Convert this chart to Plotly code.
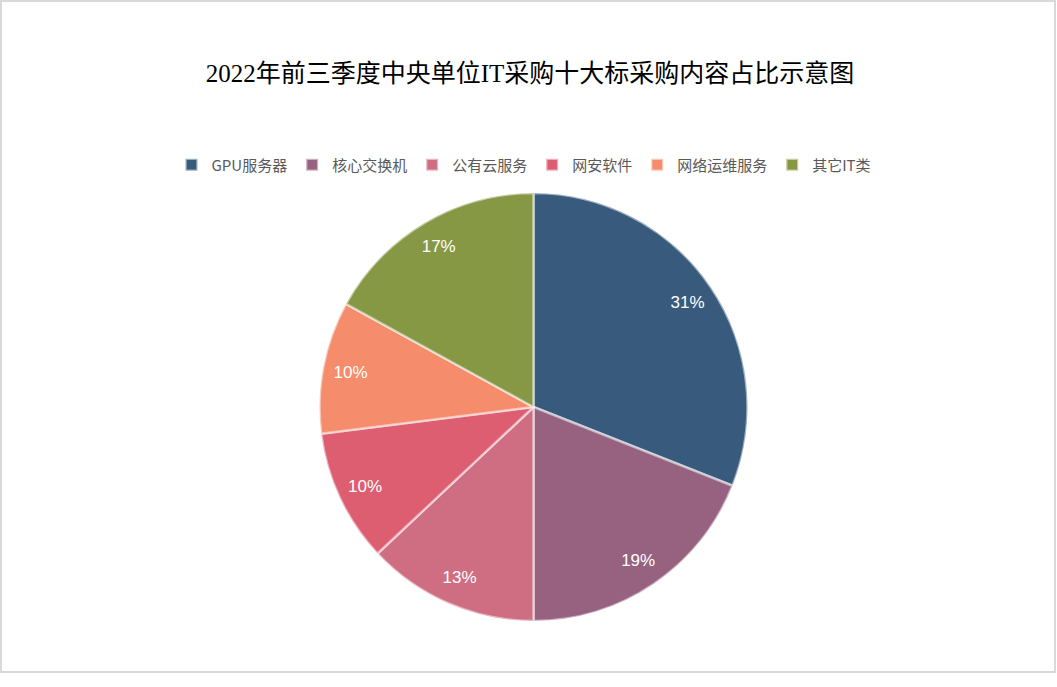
import plotly.graph_objects as go

labels = ["GPU服务器", "核心交换机", "公有云服务", "网安软件", "网络运维服务", "其它IT类"]
values = [31, 19, 13, 10, 10, 17]
colors = ["#385b7d", "#96627f", "#cf6e82", "#dd5d71", "#f58c6b", "#879845"]

W, H = 1057, 687
pie_dom = dict(x=[319 / W, 748 / W], y=[1 - 621 / H, 1 - 193 / H])

fig = go.Figure()
# the coloured slices
fig.add_trace(go.Pie(
    labels=labels, values=values, sort=False, direction="clockwise", rotation=0,
    marker=dict(colors=colors, line=dict(color="rgba(255,255,255,0.5)", width=2.5)),
    textinfo="none", domain=pie_dom, hoverinfo="label+percent",
))
# transparent ring on top, only to put the percentages near the rim like Excel does
fig.add_trace(go.Pie(
    labels=labels, values=values, sort=False, direction="clockwise", rotation=0,
    hole=0.74, showlegend=False, hoverinfo="skip",
    marker=dict(colors=["rgba(0,0,0,0)"] * len(values), line=dict(width=0)),
    texttemplate="%{percent:.0%}", textposition="inside",
    insidetextorientation="horizontal",
    textfont=dict(color="white", size=17, family="Liberation Sans, Noto Sans CJK SC"),
    domain=pie_dom,
))

fig.update_layout(
    width=W, height=H,
    margin=dict(l=0, r=0, t=0, b=0),
    paper_bgcolor="white",
    title=dict(text="2022年前三季度中央单位IT采购十大标采购内容占比示意图",
               x=530 / W, xanchor="center", y=1 - 73 / H, yanchor="middle",
               font=dict(family="Liberation Serif, Noto Sans CJK SC", size=25, color="black")),
    legend=dict(orientation="h", x=524 / W, xanchor="center", y=1 - 165 / H, yanchor="middle",
                font=dict(family="Noto Sans CJK SC", size=15, color="#595959"),
                itemwidth=30, traceorder="normal"),
    shapes=[dict(type="rect", xref="paper", yref="paper",
                 x0=1 / W, x1=1055 / W, y0=1 - 672 / H, y1=1 - 1 / H,
                 line=dict(color="#d9d9d9", width=2))],
)

fig.write_html("out.html", config={"displayModeBar": False},
               post_script="document.body.style.margin='0';")
